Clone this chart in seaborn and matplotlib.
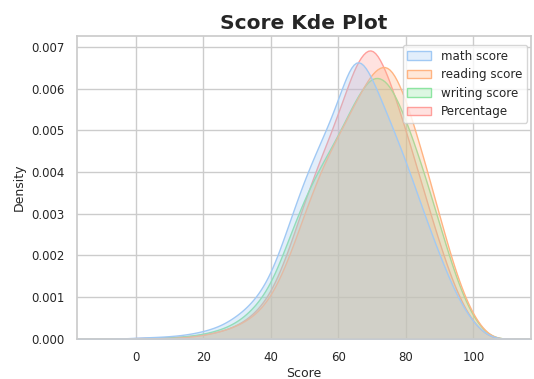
import matplotlib
matplotlib.use('Agg')
import matplotlib.pyplot as plt
import pandas as pd
import seaborn as sns
import numpy as np

# score grid and estimated density readings (x1e-4) for each subject
scores = [0, 5, 10, 15, 20, 25, 30, 35, 40, 45, 50, 55, 60, 65, 70, 75, 80, 85, 90, 95, 100]
math_score = [0.3, 0.4, 0.6, 1.0, 1.8, 3.0, 5.5, 9, 15, 27, 39, 48, 57, 72, 63, 53, 43, 31, 20, 10, 3.5]
reading_score = [0.1, 0.1, 0.2, 0.4, 0.9, 1.8, 3.2, 5.5, 10, 19, 31, 42, 50, 58, 66, 69, 59, 45, 30, 15, 5]
writing_score = [0.1, 0.2, 0.3, 0.6, 1.2, 2.2, 4.0, 7.5, 13, 24, 35, 43, 50, 59, 66, 64, 54, 42, 28, 14, 4.5]
percentage = [0.2, 0.3, 0.4, 0.6, 1.0, 1.8, 3.2, 6, 11, 21, 34, 45, 55, 68, 74, 64, 51, 37, 23, 11, 3.5]

labels = ['math score', 'reading score', 'writing score', 'Percentage']
series = [math_score, reading_score, writing_score, percentage]

frames = []
for name, vals in zip(labels, series):
    w = np.array(vals, dtype=float)
    frames.append(pd.DataFrame({'Score': scores, 'weight': w / w.sum(), 'subject': name}))
df = pd.concat(frames, ignore_index=True)

sns.set_theme(style='whitegrid')
fig = plt.figure(figsize=(5.34, 3.79), dpi=100)
ax = fig.add_axes([0.144, 0.106, 0.85, 0.799])

sns.kdeplot(data=df, x='Score', weights='weight', hue='subject', hue_order=labels,
            fill=True, common_norm=True, bw_method=0.22, palette='pastel',
            alpha=0.3, linewidth=1, ax=ax)

ax.set_xlim(-17.5, 117)
ax.set_title('Score Kde Plot', fontsize=14.5, fontweight='bold', pad=5)
ax.set_xlabel('Score', fontsize=9, labelpad=2)
ax.set_ylabel('Density', fontsize=9)
ax.tick_params(labelsize=8.5, pad=3)
ax.set_xticks([0, 20, 40, 60, 80, 100])
sns.move_legend(ax, 'upper right', title=None, fontsize=8.6, labelspacing=0.45,
                bbox_to_anchor=(1.005, 0.99))

fig.savefig('out.png', dpi=100)
